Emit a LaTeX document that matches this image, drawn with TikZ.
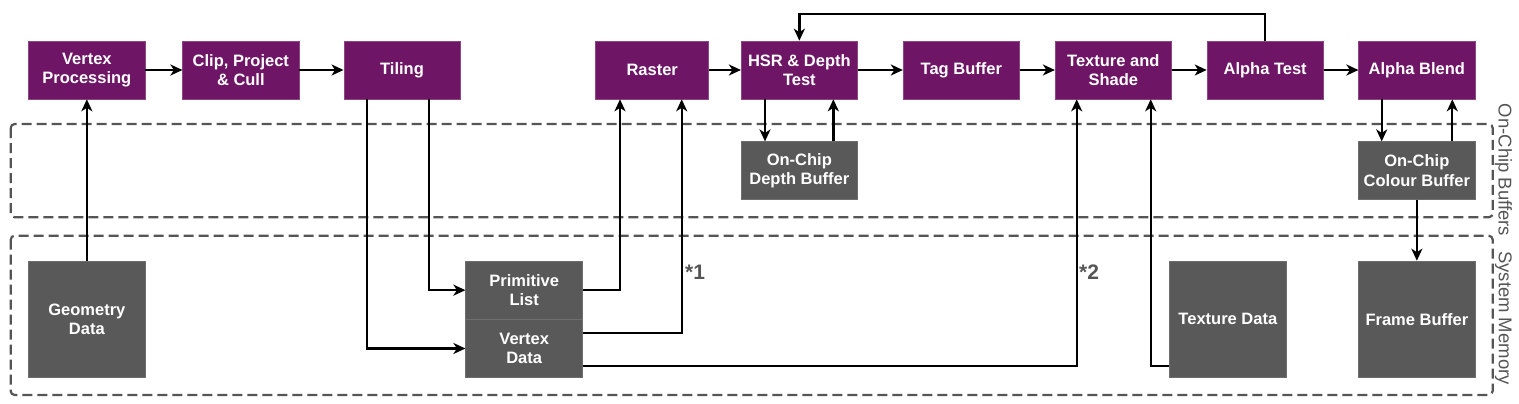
\documentclass[tikz,border=0pt]{standalone}
\usepackage{fontspec}
\setmainfont{Liberation Sans}
\usetikzlibrary{arrows.meta}
\definecolor{purp}{RGB}{111,21,102}
\definecolor{purpedge}{RGB}{140,70,130}
\definecolor{dgray}{RGB}{89,89,89}
\definecolor{dgedge}{RGB}{110,110,110}
\definecolor{dashgray}{RGB}{85,85,85}
\tikzset{
  pbox/.style={rectangle, fill=purp, draw=purpedge, line width=0.6pt, text=white, inner sep=0pt,
    minimum width=116.3pt, minimum height=58pt, align=center,
    font=\fontsize{16.5}{19.5}\selectfont\bfseries},
  gbox/.style={pbox, fill=dgray, draw=dgedge},
  arr/.style={draw=black, line width=2.3pt, -{Stealth[length=12pt,width=11pt,inset=3.5pt]}},
  region/.style={draw=dashgray, line width=2.2pt, dash pattern=on 10pt off 5pt, rounded corners=4pt},
  reglabel/.style={text=dashgray, rotate=-90, inner sep=0pt, font=\fontsize{18.5}{22}\selectfont},
  star/.style={text=dashgray, inner sep=0pt, anchor=west, font=\fontsize{21}{24}\selectfont\bfseries}
}
\begin{document}
\begin{tikzpicture}[x=1pt,y=-1pt]
\useasboundingbox (0,0) rectangle (1519,404);
% regions
\draw[region] (10.7,124) rectangle (1492.7,217.3);
\draw[region] (10.7,235.7) rectangle (1492.7,395);
\node[reglabel] (lab1) at (1503.5,170) {On-Chip Buffers};
\node[reglabel] (lab2) at (1503.5,318) {System Memory};
% top row
\node[pbox] (vp) at (86.85,70) {Vertex\\Processing};
\node[pbox] (clip) at (240.85,70) {Clip, Project\\\& Cull};
\node[pbox] (til) at (402,70) {Tiling};
\node[pbox, minimum width=113pt] (ras) at (652.2,70) {Raster};
\node[pbox] (hsr) at (799.35,70) {HSR \& Depth\\Test};
\node[pbox] (tag) at (961.3,70) {Tag Buffer};
\node[pbox] (tex) at (1113.35,70) {Texture and\\Shade};
\node[pbox] (at) at (1265.15,70) {Alpha Test};
\node[pbox] (ab) at (1416.85,70) {Alpha Blend};
% on-chip buffers
\node[gbox, minimum height=57.6pt] (odb) at (799.35,170.5) {On-Chip\\Depth Buffer};
\node[gbox, minimum height=57.6pt] (ocb) at (1416.85,170.5) {On-Chip\\Colour Buffer};
% system memory
\node[gbox, minimum height=116.7pt] (geo) at (86.85,319.35) {Geometry\\Data};
\node[gbox, minimum width=117pt, minimum height=58.3pt] (pl) at (524.2,290.15) {Primitive\\List};
\node[gbox, minimum width=117pt, minimum height=58.3pt] (vd) at (524.2,348.5) {Vertex\\Data};
\node[gbox, minimum height=116.7pt] (td) at (1227.85,319.35) {Texture Data};
\node[gbox, minimum height=116.7pt] (fb) at (1416.85,319.35) {Frame Buffer};
% labels
\node[star] (s1) at (685,272) {*1};
\node[star] (s2) at (1079,272) {*2};
% pipeline arrows
\draw[arr] (vp) -- (clip);
\draw[arr] (clip) -- (til);
\draw[arr] (ras) -- (hsr);
\draw[arr] (hsr) -- (tag);
\draw[arr] (tag) -- (tex);
\draw[arr] (tex) -- (at);
\draw[arr] (at) -- (ab);
% feedback
\coordinate (topline) at (0,14);
\draw[arr] (at.north) -- (at.north |- topline) -| (hsr.north);
% geometry
\draw[arr] (geo.north) -- (vp.south);
% tiling to memory
\draw[arr] ([xshift=27pt]til.south) |- (pl.west);
\draw[arr] ([xshift=-34.7pt]til.south) |- (vd.west);
% memory to raster
\draw[arr] (pl.east) -| ([xshift=-32.2pt]ras.south);
\draw[arr] ([yshift=15.2pt]vd.east) -| ([xshift=29.5pt]ras.south);
% to texture and shade
\draw[arr] ([yshift=-17.2pt]vd.east) -| ([xshift=-36.65pt]tex.south);
\draw[arr] ([yshift=-46.65pt]td.west) -| ([xshift=37.35pt]tex.south);
% depth buffer
\draw[arr] ([xshift=-34.35pt]hsr.south) -- ([xshift=-34.35pt]odb.north);
\draw[arr] ([xshift=34pt]odb.north) -- ([xshift=34pt]hsr.south);
% colour buffer
\draw[arr] ([xshift=-35.15pt]ab.south) -- ([xshift=-35.15pt]ocb.north);
\draw[arr] ([xshift=35.45pt]ocb.north) -- ([xshift=35.45pt]ab.south);
\draw[arr] (ocb.south) -- (fb.north);
\end{tikzpicture}
\end{document}
